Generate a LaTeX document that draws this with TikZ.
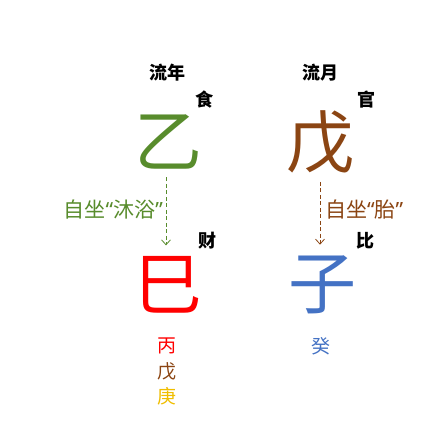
\documentclass[tikz,border=0pt]{standalone}
\usepackage{fontspec}
\usetikzlibrary{arrows.meta}
\newfontfamily\cjk{Noto Sans CJK SC}
\newfontfamily\lat{Noto Sans}
\definecolor{yigreen}{RGB}{88,140,44}
\definecolor{wubrown}{RGB}{139,69,19}
\definecolor{sired}{RGB}{255,0,0}
\definecolor{ziblue}{RGB}{68,114,196}
\definecolor{gengyellow}{RGB}{240,190,0}

\begin{document}
\begin{tikzpicture}[x=1pt,y=-1pt,
  big/.style={font=\cjk\fontsize{68}{68}\selectfont,inner sep=0pt},
  tag/.style={font=\cjk\bfseries\fontsize{18}{18}\selectfont,inner sep=0pt},
  note/.style={font=\cjk\fontsize{21}{21}\selectfont,inner sep=0pt},
  zang/.style={font=\cjk\fontsize{19}{19}\selectfont,inner sep=0pt},
  flow/.style={line width=0.8pt,dash pattern=on 4pt off 2.5pt,
    -{Straight Barb[length=5pt,width=9pt]}}]

\useasboundingbox[fill=white] (0,0) rectangle (427,429);

% heavenly stems
\node[tag] (nian) at (167,73) {流年};
\node[tag] (yue) at (320,73) {流月};
\node[tag] (shi) at (204,100) {食};
\node[tag] (guan) at (366,100) {官};
\node[big,text=yigreen] (yi) at (168,142) {乙};
\node[big,text=wubrown] (wu) at (320,142) {戊};

% earthly branches
\node[tag] (cai) at (207,241) {财};
\node[tag] (bi) at (365,241) {比};
\node[big,text=sired] (si) at (168,285) {巳};
\node[big,text=ziblue] (zi) at (322,285) {子};

% hidden stems
\node[zang,text=sired] (bing) at (167,346) {丙};
\node[zang,text=wubrown] (wuzang) at (167,371) {戊};
\node[zang,text=gengyellow] (geng) at (167,396) {庚};
\node[zang,text=ziblue] (gui) at (321,346) {癸};

\node[note,text=yigreen,anchor=east] (muyu) at (163,210) {自坐{\lat“}沐浴{\lat”}};
\node[note,text=wubrown,anchor=west] (tai) at (325,210) {自坐{\lat“}胎{\lat”}};

\draw[flow,yigreen] ([xshift=-2pt,yshift=-8pt]yi.south) -- ([xshift=-2pt,yshift=11pt]si.north);
\draw[flow,wubrown] ([yshift=-8pt]wu.south) -- ([xshift=-2pt,yshift=11pt]zi.north);
\end{tikzpicture}
\end{document}
